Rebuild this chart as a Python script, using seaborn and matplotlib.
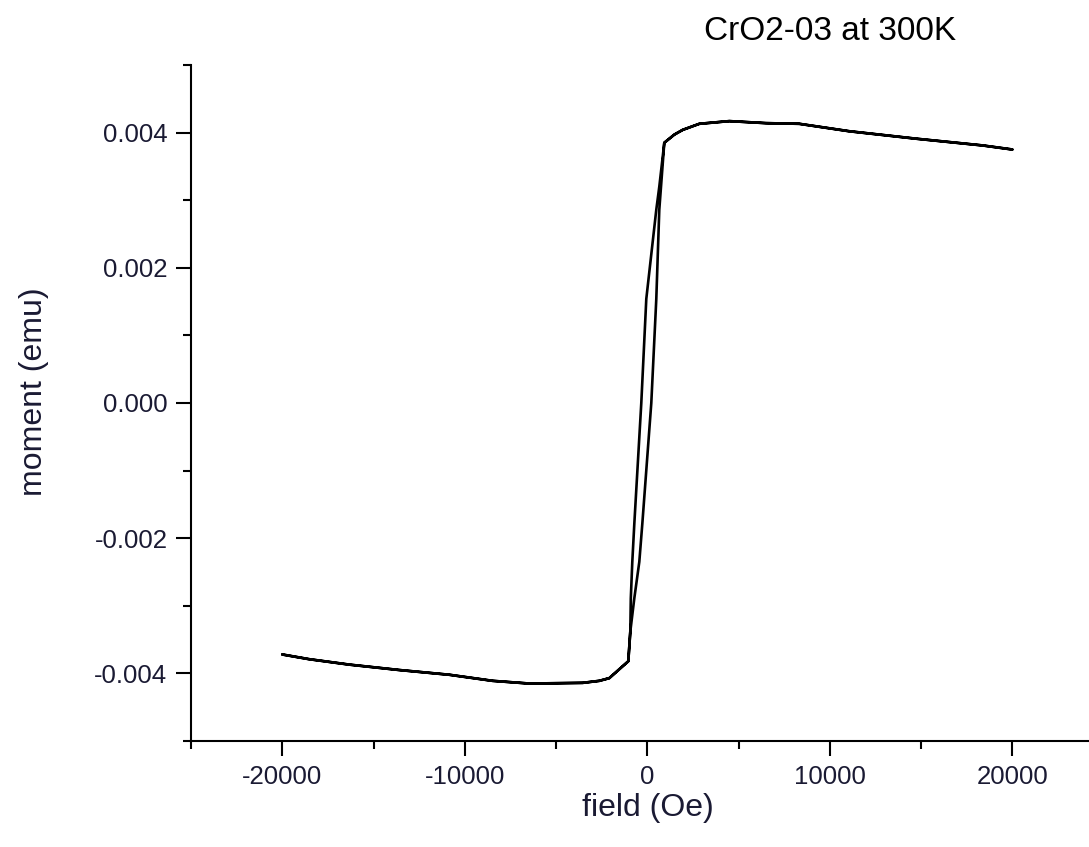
import numpy as np
import pandas as pd
import matplotlib
matplotlib.use("Agg")
import matplotlib.pyplot as plt
import seaborn as sns
from matplotlib.ticker import MultipleLocator

# Positive saturation region (field Oe, moment emu), from knee outward
pos_sat_field = [931, 1479, 1936, 2849, 4493, 6500, 8328, 11068, 14722, 18374, 20000]
pos_sat_moment = [0.00385, 0.00397, 0.00404, 0.00413, 0.00417, 0.00414, 0.00413, 0.00402, 0.00391, 0.00381, 0.00375]

# Negative saturation region, from -20000 up to the lower knee
neg_sat_field = [-20000, -18520, -16330, -13590, -10850, -8475, -6465, -3545, -2630, -2082, -1041]
neg_sat_moment = [-0.00372, -0.00379, -0.00387, -0.00395, -0.00402, -0.00411, -0.00415, -0.00414, -0.00411, -0.00407, -0.00382]

# Steep part of the descending branch (top knee -> bottom knee)
desc_field = [931, 657, 493, -55, -329, -712, -822, -904, -931, -1041]
desc_moment = [0.00385, 0.00320, 0.00286, 0.00154, 0.0, -0.00179, -0.00235, -0.00289, -0.00338, -0.00382]

# Steep part of the ascending branch (bottom knee -> top knee)
asc_field = [-1041, -931, -712, -438, -274, 219, 493, 657, 931]
asc_moment = [-0.00382, -0.00338, -0.00289, -0.00235, -0.00179, 0.0, 0.00154, 0.00286, 0.00385]

title = "CrO2-03 at 300K"
xlabel = "field (Oe)"
ylabel = "moment (emu)"

# Build the full loop: descending then ascending
field = (pos_sat_field[::-1] + desc_field[1:] + neg_sat_field[::-1][1:]
         + neg_sat_field[1:] + asc_field[1:] + pos_sat_field[1:])
moment = (pos_sat_moment[::-1] + desc_moment[1:] + neg_sat_moment[::-1][1:]
          + neg_sat_moment[1:] + asc_moment[1:] + pos_sat_moment[1:])
df = pd.DataFrame({"field": field, "moment": moment, "order": np.arange(len(field))})

sns.set_theme(style="ticks")
plt.rcParams['font.family'] = ['Liberation Sans', 'DejaVu Sans']

fig = plt.figure(figsize=(10.89, 8.47), dpi=100)
ax = fig.add_axes([191/1089, 1 - 741/847, 1 - 191/1089, (741 - 65)/847])

sns.lineplot(data=df, x="field", y="moment", sort=False, estimator=None,
             color="black", linewidth=1.9, ax=ax)

ax.set_xlim(-25000, 24200)
ax.set_ylim(-0.005, 0.005)
ax.xaxis.set_major_locator(MultipleLocator(10000))
ax.xaxis.set_minor_locator(MultipleLocator(5000))
ax.yaxis.set_major_locator(MultipleLocator(0.002))
ax.yaxis.set_minor_locator(MultipleLocator(0.001))
ax.yaxis.set_major_formatter(matplotlib.ticker.FormatStrFormatter('%.3f'))
ax.xaxis.set_major_formatter(matplotlib.ticker.FuncFormatter(lambda v, p: f"{int(v)}"))

for s in ["top", "right"]:
    ax.spines[s].set_visible(False)
for s in ["left", "bottom"]:
    ax.spines[s].set_linewidth(1.5)
    ax.spines[s].set_color("black")

ax.tick_params(which="major", direction="out", length=11, width=1.5, colors="black",
               labelsize=18.5, pad=6, labelcolor="#1a1a33")
ax.tick_params(which="minor", direction="out", length=6, width=1.5, colors="black")

ax.set_xlabel("")
ax.set_ylabel("")
fig.text(648/1089, 1 - 808/847, xlabel, ha="center", va="center", fontsize=23, color="#1a1a33")
fig.text(34/1089, 1 - 392/847, ylabel, ha="center", va="center", rotation=90, fontsize=23, color="#1a1a33")
fig.text(830/1089, 1 - 31/847, title, ha="center", va="center", fontsize=24, color="black")

fig.savefig("out.png", dpi=100)
